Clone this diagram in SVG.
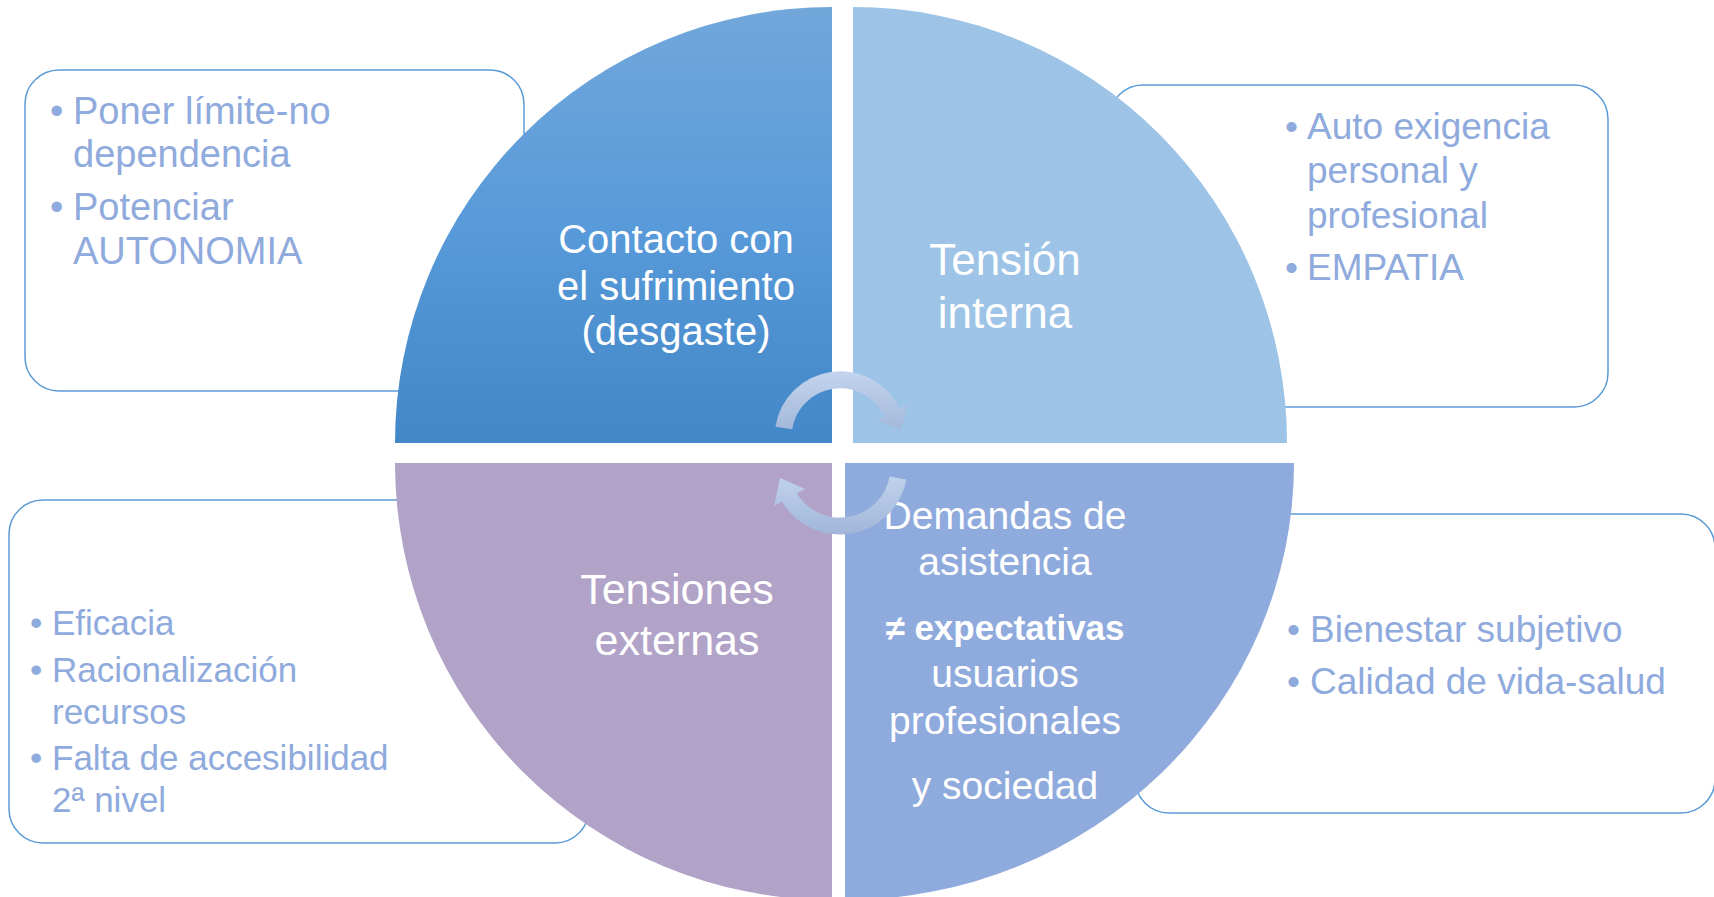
<svg xmlns="http://www.w3.org/2000/svg" width="1714" height="897" viewBox="0 0 1714 897">
<style>
.box{fill:#fff;stroke:#5B9BD5;stroke-width:1.5}
.bt{font-family:"Liberation Sans",Arial,sans-serif;fill:#8FAADC}
.qt{font-family:"Liberation Sans",Arial,sans-serif;fill:#fff;text-anchor:middle}
</style>
<defs>
<linearGradient id="gTL" x1="0" y1="7" x2="0" y2="443" gradientUnits="userSpaceOnUse">
<stop offset="0" stop-color="#72A7DA"/><stop offset="0.5" stop-color="#589ADA"/><stop offset="1" stop-color="#4287C7"/>
</linearGradient>
<linearGradient id="gA1" x1="0" y1="372" x2="0" y2="430" gradientUnits="userSpaceOnUse">
<stop offset="0" stop-color="#C2D4ED"/><stop offset="1" stop-color="#A3B8DA"/>
</linearGradient>
<linearGradient id="gA2" x1="0" y1="476" x2="0" y2="536" gradientUnits="userSpaceOnUse">
<stop offset="0" stop-color="#C0D3EC"/><stop offset="1" stop-color="#A0B5D9"/>
</linearGradient>
</defs>

<g id="box-tl">
<rect class="box" x="25" y="70" width="499" height="321" rx="34"/>
<text class="bt" font-size="38" x="50" y="124">•</text>
<text class="bt" font-size="38" x="73" y="124">Poner límite-no</text>
<text class="bt" font-size="38" x="73" y="167">dependencia</text>
<text class="bt" font-size="38" x="50" y="220">•</text>
<text class="bt" font-size="38" x="73" y="220">Potenciar</text>
<text class="bt" font-size="38" x="73" y="264">AUTONOMIA</text>
</g>
<g id="box-tr">
<rect class="box" x="1109" y="85" width="499" height="322" rx="34"/>
<text class="bt" font-size="37" x="1285" y="139">•</text>
<text class="bt" font-size="37" x="1307" y="139">Auto exigencia</text>
<text class="bt" font-size="37" x="1307" y="183">personal y</text>
<text class="bt" font-size="37" x="1307" y="228">profesional</text>
<text class="bt" font-size="37" x="1285" y="280">•</text>
<text class="bt" font-size="37" x="1307" y="280">EMPATIA</text>
</g>
<g id="box-bl">
<rect class="box" x="9" y="500" width="580" height="343" rx="34"/>
<text class="bt" font-size="35" x="30" y="635">•</text>
<text class="bt" font-size="35" x="52" y="635">Eficacia</text>
<text class="bt" font-size="35" x="30" y="682">•</text>
<text class="bt" font-size="35" x="52" y="682">Racionalización</text>
<text class="bt" font-size="35" x="52" y="724">recursos</text>
<text class="bt" font-size="35" x="30" y="770">•</text>
<text class="bt" font-size="35" x="52" y="770">Falta de accesibilidad</text>
<text class="bt" font-size="35" x="52" y="812">2ª nivel</text>
</g>
<g id="box-br">
<rect class="box" x="1135" y="514" width="580" height="299" rx="34"/>
<text class="bt" font-size="37" x="1287" y="642">•</text>
<text class="bt" font-size="37" x="1310" y="642">Bienestar subjetivo</text>
<text class="bt" font-size="37" x="1287" y="694">•</text>
<text class="bt" font-size="37" x="1310" y="694">Calidad de vida-salud</text>
</g>

<g id="q-tl">
<path d="M832 443 L395 443 A437 436 0 0 1 832 7 Z" fill="url(#gTL)"/>
<text class="qt" font-size="40" x="676" y="253">Contacto con</text>
<text class="qt" font-size="40" x="676" y="300">el sufrimiento</text>
<text class="qt" font-size="40" x="676" y="345">(desgaste)</text>
</g>
<g id="q-tr">
<path d="M853 443 L853 7 A434 436 0 0 1 1287 443 Z" fill="#9DC3E6"/>
<text class="qt" font-size="44" x="1005" y="275">Tensión</text>
<text class="qt" font-size="44" x="1005" y="328">interna</text>
</g>
<g id="q-bl">
<path d="M832 463 L832 900 A437 437 0 0 1 395 463 Z" fill="#B1A2C7"/>
<text class="qt" font-size="43" x="677" y="604">Tensiones</text>
<text class="qt" font-size="43" x="677" y="655">externas</text>
</g>
<g id="q-br">
<path d="M845 463 L1294 463 A449 437 0 0 1 845 900 Z" fill="#8FAADC"/>
<text class="qt" font-size="39" x="1005" y="529">Demandas de</text>
<text class="qt" font-size="39" x="1005" y="575">asistencia</text>
<text class="qt" font-size="35" font-weight="bold" x="1005" y="640">≠ expectativas</text>
<text class="qt" font-size="39" x="1005" y="687">usuarios</text>
<text class="qt" font-size="39" x="1005" y="734">profesionales</text>
<text class="qt" font-size="39" x="1005" y="799">y sociedad</text>
</g>

<g id="connectors">
<path d="M783.8 428 A57 57 0 0 1 891.7 412.5" fill="none" stroke="url(#gA1)" stroke-width="17"/>
<polygon points="907,405 877,420 901,430" fill="url(#gA1)"/>
<path d="M898 478 A59 59 0 0 1 789.2 497" fill="none" stroke="url(#gA2)" stroke-width="17"/>
<polygon points="805,489 774,506 780,478" fill="url(#gA2)"/>
</g>
</svg>
